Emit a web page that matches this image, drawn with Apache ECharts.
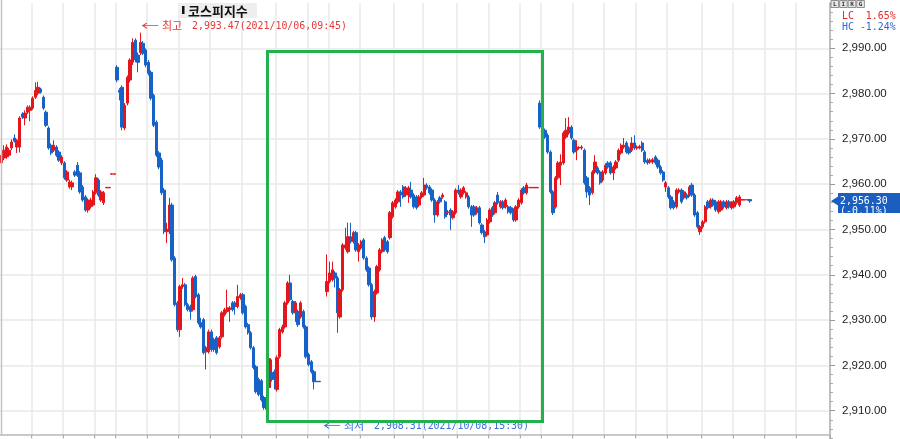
<!DOCTYPE html>
<html><head><meta charset="utf-8">
<script src="https://cdn.jsdelivr.net/npm/echarts@6/dist/echarts.min.js"></script>
<style>html,body{margin:0;padding:0;background:#fff;overflow:hidden;height:439px}#c{width:900px;height:456px}</style>
</head><body><div id="c"></div>
<script>
// ---- data: 5-minute candles [open, close, low, high] ----
const day1 = [
[2964.7,2966.4,2964.2,2966.8],[2965.8,2967.5,2965.3,2968.6],[2966.0,2968.2,2965.6,2968.8],[2966.4,2967.5,2966.0,2968.0],
[2968.0,2969.3,2967.5,2969.9],[2970.2,2969.5,2969.2,2971.0],[2968.2,2969.7,2966.9,2970.0],[2968.2,2974.6,2967.0,2975.0],
[2975.5,2974.8,2974.4,2975.9],[2974.6,2975.7,2973.0,2976.3],[2975.9,2977.0,2975.5,2977.4],[2976.3,2977.0,2973.9,2977.4],
[2976.8,2979.0,2976.4,2979.4],[2979.2,2980.7,2978.8,2982.5],[2980.1,2981.4,2979.6,2982.6],[2981.0,2980.3,2980.0,2981.3],
[2979.2,2976.8,2976.4,2979.6],[2975.9,2973.0,2972.6,2976.3],[2972.4,2968.0,2967.6,2972.8],[2968.6,2966.9,2966.4,2969.0],
[2967.5,2968.6,2967.1,2969.7],[2968.2,2966.4,2966.0,2968.6],[2967.1,2965.3,2964.9,2967.5],[2964.7,2966.0,2964.2,2966.4],
[2964.7,2961.4,2961.0,2965.1],[2960.9,2962.7,2960.5,2963.1],[2959.4,2960.5,2959.0,2961.0],[2959.4,2960.3,2958.7,2960.8],
[2962.7,2962.0,2961.6,2963.1],[2964.2,2962.0,2961.6,2964.9],[2962.5,2958.3,2957.9,2962.9],[2959.4,2956.5,2956.1,2959.8],
[2957.2,2954.3,2953.9,2957.6],[2954.3,2956.5,2953.7,2956.9],[2955.0,2956.5,2954.6,2957.0],[2955.4,2958.3,2955.0,2958.7],
[2958.1,2961.4,2957.7,2962.2],[2960.9,2957.6,2957.2,2961.3],[2956.5,2958.3,2956.1,2958.7],[2955.9,2958.1,2955.4,2958.5],
[2959.2,2959.3,2959.2,2959.3],[2959.2,2959.3,2959.2,2959.3],[2962.2,2962.3,2962.2,2962.3],[2962.2,2962.3,2962.2,2962.3]
];
const day2 = [
[2985.8,2983.0,2982.5,2986.3],[2980.7,2980.3,2978.5,2981.2],[2981.4,2972.6,2971.9,2981.8],[2972.4,2977.4,2971.9,2977.9],
[2977.9,2983.6,2977.4,2984.0],[2983.0,2987.4,2982.5,2987.8],[2986.9,2991.3,2986.3,2992.2],[2991.8,2987.4,2986.9,2992.2],
[2988.5,2986.9,2984.7,2989.1],[2989.1,2991.3,2988.5,2993.47],[2991.1,2988.9,2988.5,2991.6],[2989.6,2986.3,2985.8,2990.0],
[2986.9,2984.5,2984.0,2987.4],[2984.7,2979.0,2978.5,2985.1],[2979.6,2973.0,2972.6,2980.0],[2973.7,2966.4,2966.0,2974.1],
[2966.9,2963.8,2963.3,2967.3],[2965.3,2958.1,2957.6,2965.8],[2958.7,2949.5,2949.0,2959.2],[2949.5,2950.1,2947.0,2951.5],
[2949.5,2955.4,2949.0,2957.0],[2955.4,2943.3,2942.9,2955.9],[2943.7,2933.4,2933.0,2944.1],[2933.8,2927.9,2927.4,2934.2],
[2927.9,2937.4,2926.3,2937.8],[2937.4,2937.8,2936.9,2939.3],[2937.8,2933.4,2933.0,2938.2],[2933.4,2932.3,2931.9,2933.8],
[2933.0,2931.9,2930.1,2933.4],[2932.3,2939.3,2931.9,2939.7],[2939.6,2935.2,2934.8,2940.0],[2935.6,2929.4,2929.0,2936.0],
[2929.4,2928.5,2928.1,2930.5],[2930.1,2922.8,2922.4,2930.5],[2923.0,2923.9,2919.1,2924.3],[2923.0,2927.4,2922.6,2927.9],
[2927.4,2923.5,2923.0,2927.9],[2925.7,2923.5,2923.0,2926.1],[2926.1,2922.8,2922.4,2926.5],[2924.1,2926.1,2923.7,2926.5],
[2926.3,2931.6,2925.9,2932.0],[2931.2,2932.3,2930.8,2932.7],[2931.9,2932.7,2931.5,2936.7],[2932.3,2932.7,2929.6,2933.1],
[2933.8,2932.3,2931.9,2934.2],[2933.8,2933.0,2931.2,2934.2],[2933.0,2935.2,2932.6,2937.8],[2934.9,2935.6,2934.5,2936.0],
[2935.6,2931.6,2931.2,2936.0],[2933.0,2928.5,2928.1,2933.4],[2929.0,2927.2,2926.8,2929.4],[2927.2,2923.9,2923.5,2927.6],
[2923.9,2919.5,2919.1,2924.3],[2919.7,2914.2,2913.8,2920.1],[2916.9,2913.6,2913.2,2917.3],[2916.6,2912.4,2912.0,2917.0],
[2912.9,2910.7,2910.2,2913.3],[2912.4,2910.3,2908.31,2912.8],[2915.1,2921.5,2914.7,2922.4],[2918.4,2916.9,2916.4,2921.3],
[2918.6,2917.3,2914.7,2919.1],[2914.7,2921.7,2914.2,2922.2],[2921.9,2927.9,2921.5,2928.3],[2927.4,2928.5,2927.0,2929.0],
[2928.5,2933.8,2928.1,2934.2],[2933.8,2938.2,2933.4,2938.6],[2938.2,2934.5,2934.1,2940.0],[2934.1,2931.6,2931.2,2934.5],
[2931.6,2933.8,2929.6,2934.2],[2931.9,2929.0,2928.5,2932.3],[2930.7,2933.8,2930.3,2934.2],[2931.9,2928.5,2928.1,2932.3],
[2928.5,2921.9,2921.5,2928.9],[2922.4,2920.2,2919.8,2922.8],[2920.8,2918.6,2918.2,2921.2],[2918.6,2916.4,2914.7,2919.0],
[2916.5,2916.4,2916.4,2916.5],[2916.5,2916.4,2916.4,2916.5]
];
const day3 = [
[2936.3,2938.5,2935.2,2944.5],[2938.5,2940.4,2938.1,2942.9],[2938.9,2941.1,2938.5,2942.9],[2940.4,2939.3,2937.2,2940.8],
[2939.3,2931.6,2927.2,2939.7],[2930.7,2936.7,2930.3,2937.1],[2936.7,2946.6,2936.3,2947.0],[2945.9,2946.6,2945.5,2950.4],
[2945.1,2948.4,2944.7,2951.5],[2948.4,2947.3,2946.9,2951.5],[2947.3,2949.3,2946.9,2949.7],[2949.3,2945.5,2945.1,2949.7],
[2945.1,2946.6,2942.9,2947.0],[2945.9,2947.3,2945.5,2947.7],[2947.7,2943.7,2943.3,2948.1],[2943.7,2941.1,2940.7,2944.1],
[2941.5,2937.8,2937.4,2941.9],[2937.8,2930.7,2930.1,2938.2],[2930.7,2936.3,2929.6,2936.7],[2936.0,2941.8,2935.6,2942.2],
[2941.1,2945.5,2940.7,2945.9],[2945.1,2947.7,2944.7,2948.1],[2948.2,2945.5,2945.1,2948.6],[2947.3,2945.1,2944.7,2947.7],
[2948.2,2953.7,2947.8,2954.1],[2952.8,2955.9,2952.4,2956.3],[2955.0,2956.5,2954.6,2956.9],[2956.1,2958.3,2955.7,2958.7],
[2958.3,2957.6,2955.0,2958.7],[2959.4,2957.2,2956.8,2959.8],[2957.6,2959.2,2957.2,2959.6],[2957.6,2959.2,2955.9,2959.6],
[2958.7,2957.2,2956.8,2960.5],[2957.6,2955.0,2954.6,2958.0],[2957.2,2954.8,2954.4,2957.6],[2955.4,2957.2,2955.0,2957.6],
[2957.2,2958.1,2956.8,2958.5],[2957.6,2959.8,2957.2,2961.4],[2959.8,2959.2,2958.8,2960.2],[2959.4,2958.1,2957.7,2959.8],
[2958.7,2956.5,2956.1,2959.1],[2956.5,2953.2,2951.5,2956.9],[2953.2,2956.1,2952.8,2956.5],[2957.0,2956.1,2955.7,2957.4],
[2957.2,2957.6,2956.8,2958.1],[2956.1,2952.8,2952.4,2956.5],[2953.7,2953.9,2953.2,2954.3],[2954.3,2953.2,2949.9,2954.7],
[2952.6,2953.9,2952.2,2954.3],[2953.7,2958.7,2953.3,2959.1],[2958.7,2958.1,2957.7,2959.8],[2957.2,2958.7,2956.8,2959.1],
[2958.1,2959.2,2957.7,2959.6],[2957.2,2958.1,2956.8,2958.5],[2957.2,2955.0,2954.6,2957.6],[2955.0,2953.2,2950.6,2955.4],
[2955.0,2953.2,2952.8,2955.4],[2953.7,2954.8,2953.3,2955.2],[2954.8,2951.5,2951.1,2955.2],[2951.0,2949.3,2948.9,2951.4],
[2949.5,2948.4,2947.0,2949.9],[2948.8,2952.1,2948.4,2952.5],[2951.7,2954.3,2951.3,2954.7],[2954.8,2953.2,2952.8,2955.2],
[2953.7,2955.9,2953.3,2956.3],[2957.6,2955.9,2955.5,2958.3],[2955.0,2956.1,2954.6,2956.5],[2956.1,2954.8,2954.4,2956.5],
[2955.0,2956.5,2954.6,2956.9],[2955.0,2953.9,2953.5,2955.4],[2954.8,2953.7,2953.3,2955.2],[2954.3,2952.1,2951.7,2954.7],
[2952.1,2955.0,2951.7,2955.4],[2955.0,2956.5,2954.6,2956.9],[2955.9,2958.7,2955.5,2959.1],[2959.2,2958.1,2957.7,2959.6],
[2958.1,2959.8,2957.7,2960.3],[2959.2,2959.3,2959.2,2959.3],[2959.2,2959.3,2959.2,2959.3],[2959.2,2959.3,2959.2,2959.3],
[2959.2,2959.3,2959.2,2959.3]
];
const day4 = [
[2977.9,2972.6,2972.2,2978.5],[2969.7,2972.4,2969.3,2975.7],[2971.9,2970.4,2970.0,2972.3],[2970.8,2967.1,2966.7,2971.2],
[2967.1,2958.3,2957.9,2967.5],[2958.3,2953.7,2953.2,2958.7],[2955.0,2961.4,2954.6,2961.8],[2961.4,2964.7,2961.0,2965.1],
[2964.2,2964.9,2959.8,2966.6],[2964.7,2971.3,2964.3,2971.7],[2970.4,2971.9,2970.0,2974.6],[2971.3,2972.6,2970.9,2974.8],
[2972.6,2970.2,2969.8,2973.0],[2969.7,2967.1,2966.7,2970.1],[2967.5,2968.2,2965.3,2969.7],[2968.0,2968.1,2967.6,2968.4],
[2968.0,2968.2,2967.6,2968.6],[2967.5,2960.3,2959.9,2967.9],[2961.4,2958.3,2957.0,2961.8],[2959.2,2957.6,2955.4,2959.6],
[2958.1,2962.7,2957.7,2963.1],[2962.7,2964.9,2962.3,2966.4],[2963.6,2962.5,2962.1,2964.0],[2962.7,2960.3,2959.9,2963.1],
[2960.9,2962.7,2960.5,2963.1],[2962.5,2964.2,2962.1,2964.6],[2964.7,2963.8,2963.4,2965.1],[2964.7,2962.5,2962.1,2965.1],
[2962.5,2963.8,2960.9,2964.2],[2963.6,2964.9,2963.2,2965.3],[2965.3,2967.5,2964.9,2967.9],[2966.9,2968.6,2966.5,2969.0],
[2968.2,2968.6,2967.8,2970.2],[2969.1,2967.1,2966.7,2969.5],[2968.0,2966.9,2966.5,2968.4],[2967.5,2969.1,2967.1,2970.4],
[2969.1,2968.0,2967.6,2970.8],[2968.0,2968.2,2967.6,2968.6],[2968.0,2968.3,2967.7,2968.7],[2969.1,2967.5,2967.1,2969.5],
[2967.1,2964.9,2964.5,2967.5],[2965.3,2964.7,2964.3,2965.7],[2964.9,2965.3,2964.5,2965.7],[2964.9,2965.4,2964.5,2965.8],
[2966.0,2964.7,2964.3,2966.4],[2965.3,2963.8,2963.4,2965.7],[2963.8,2962.5,2962.1,2964.2],[2962.7,2960.9,2960.5,2963.1],
[2959.4,2960.3,2958.3,2960.7],[2959.2,2957.2,2956.8,2959.6],[2957.2,2954.8,2954.4,2957.6],[2956.1,2954.8,2954.4,2956.5],
[2955.0,2958.7,2954.6,2959.1],[2958.3,2958.7,2957.9,2959.1],[2958.7,2956.1,2955.7,2959.1],[2957.0,2958.3,2956.6,2958.7],
[2957.6,2957.0,2956.6,2958.0],[2957.6,2959.4,2957.2,2959.8],[2959.8,2957.6,2957.2,2960.3],[2957.6,2953.2,2952.8,2958.0],
[2953.7,2950.6,2950.2,2954.1],[2949.5,2950.6,2948.8,2951.0],[2950.6,2951.7,2950.2,2952.1],[2951.7,2955.0,2951.3,2955.4],
[2956.1,2954.8,2954.4,2956.5],[2955.0,2956.5,2954.6,2956.9],[2956.5,2955.4,2955.0,2956.9],[2956.1,2954.3,2953.9,2956.5],
[2953.9,2956.1,2953.5,2956.5],[2954.3,2956.1,2953.9,2956.5],[2956.1,2955.0,2954.6,2956.5],[2954.8,2956.1,2954.4,2956.5],
[2956.1,2955.0,2954.6,2956.5],[2954.8,2955.9,2954.4,2956.3],[2955.0,2956.1,2954.6,2956.5],[2955.9,2957.0,2955.5,2957.4],
[2955.4,2957.2,2955.0,2957.6],[2956.5,2956.6,2956.5,2956.6],[2956.5,2956.6,2956.5,2956.6],[2956.5,2956.6,2956.5,2956.6],
[2956.6,2956.3,2955.9,2956.7]
];
const sessions = [day1, day2, day3, day4];
const sessionStarts = [0, 44, 124, 205];
const sessionDates = ['10/05', '10/06', '10/07', '10/08'];
const sessionOpen = ['11:50', '09:00', '09:00', '09:00'];
const SLOTS = 316;
const hourLineSlots = [12,24,36,44,56,68,80,92,105,117,125,137,150,161,174,186,198,206,218,230,242,254,267,279,291,303];
const lastPrice = 2956.30;
const lastChange = '(-0.11%)';
const titleText = '코스피지수';
const maxNote = ['←', '최고', '2,993.47(2021/10/06,09:45)'];
const minNote = ['←', '최저', '2,908.31(2021/10/08,15:30)'];
const lcText = 'LC  1.65%';
const hcText = 'HC -1.24%';

// ---- build category labels & candle list ----
function slotLabel(i) {
  let s = 0;
  for (let k = 0; k < sessionStarts.length; k++) if (i >= sessionStarts[k]) s = k;
  const [h, m] = sessionOpen[s].split(':').map(Number);
  const t = h * 60 + m + (i - sessionStarts[s]) * 5;
  return sessionDates[s] + ' ' + String(Math.floor(t / 60)).padStart(2, '0') + ':' + String(t % 60).padStart(2, '0');
}
const categories = [];
const candles = [];
for (let i = 0; i < SLOTS; i++) { categories.push(slotLabel(i)); candles.push(['-', '-', '-', '-']); }
sessions.forEach((d, k) => d.forEach((c, j) => { candles[sessionStarts[k] + j] = c; }));

const RED = '#e3161d', BLUE = '#1762c6';
const MONO = "'DejaVu Sans Mono', monospace";
const CJK = "'Noto Sans CJK KR', sans-serif";
const hourSet = new Set(hourLineSlots);

const chart = echarts.init(document.getElementById('c'), null, { renderer: 'canvas' });
chart.setOption({
  animation: false,
  backgroundColor: '#fff',
  grid: { left: 0, right: 70, top: 3, bottom: 0 },
  xAxis: {
    type: 'category', data: categories, boundaryGap: true, offset: -21,
    axisLine: { show: true, lineStyle: { color: '#b8b8b8', width: 1.5 } },
    axisTick: { show: true, length: 3, interval: (i) => hourSet.has(i), lineStyle: { color: '#aaa' } },
    axisLabel: { show: false },
    splitLine: { show: true, interval: (i) => hourSet.has(i), lineStyle: { color: '#e8e8e8', width: 1.5 } }
  },
  yAxis: {
    type: 'value', position: 'right', min: 2900, max: 3000, interval: 10,
    axisLine: { show: true, lineStyle: { color: '#b0b0b0', width: 1.5 } },
    axisTick: { show: true, length: 5, lineStyle: { color: '#999' } },
    minorTick: { show: true, splitNumber: 5, length: 3, lineStyle: { color: '#aaa' } },
    axisLabel: {
      margin: 12, color: '#222', fontFamily: "'Liberation Sans', sans-serif", fontSize: 11.5, showMaxLabel: false, showMinLabel: false,
      formatter: (v) => v.toLocaleString('en-US', { minimumFractionDigits: 2, maximumFractionDigits: 2 })
    },
    splitLine: { show: true, showMaxLine: false, lineStyle: { color: '#e8e8e8', width: 1.5 } }
  },
  series: [{
    type: 'candlestick', data: candles, barWidth: 2.8,
    itemStyle: { color: RED, color0: BLUE, borderColor: RED, borderColor0: BLUE, borderWidth: 1 }
  }]
});

const py = chart.convertToPixel({ yAxisIndex: 0 }, lastPrice);
const boxes = ['L', 'I', 'R', 'G'];
function monoText(x, y, text, fill, size) {
  return { type: 'text', x: x, y: y, scaleX: 0.9, style: { text: text, fill: fill, font: size + "px " + MONO, verticalAlign: 'middle' }, z: 12 };
}
function note(x, y, parts, fill) {
  return [
    { type: 'text', x: x, y: y, scaleX: 1.5, style: { text: parts[0], fill: fill, font: "12px " + CJK, verticalAlign: 'middle' }, z: 11 },
    { type: 'text', x: x + 21, y: y, style: { text: parts[1], fill: fill, font: "11px " + CJK, verticalAlign: 'middle' }, z: 11 },
    Object.assign(monoText(x + 51, y, parts[2], fill, 11), { z: 11 })
  ];
}
const graphic = [
  { type: 'line', shape: { x1: 1.5, y1: 0, x2: 1.5, y2: 435 }, style: { stroke: '#c4c4c4', lineWidth: 1.5 }, z: 5 },
  { type: 'rect', shape: { x: 180, y: 3, width: 77, height: 15 }, style: { fill: '#eeeeee' }, z: 10 },
  { type: 'rect', shape: { x: 182, y: 6, width: 2.5, height: 8 }, style: { fill: '#111' }, z: 11 },
  { type: 'text', x: 188, y: 11, style: { text: titleText, fill: '#111', font: "bold 13px " + CJK, verticalAlign: 'middle' }, z: 11 },
  ...note(141, 26, maxNote, '#e23a3a'),
  ...note(323, 426, minNote, '#3a6fd6'),
  { type: 'rect', shape: { x: 267.5, y: 51.5, width: 275, height: 370 }, style: { fill: null, stroke: '#22b14c', lineWidth: 3 }, z: 20 },
  monoText(842, 16, lcText, '#e52828', 11),
  monoText(842, 27, hcText, '#2a6ad0', 11),
  { type: 'polygon', shape: { points: [[831, py], [838, py - 4.5], [838, py + 4.5]] }, style: { fill: '#1a5fc0' }, z: 11 },
  { type: 'rect', shape: { x: 838, y: py - 8, width: 62, height: 20 }, style: { fill: '#1a5fc0' }, z: 11 },
  monoText(840, py + 0.5, lastPrice.toLocaleString('en-US', { minimumFractionDigits: 2 }), '#fff', 11),
  monoText(840, py + 10.5, lastChange, '#fff', 11)
];
boxes.forEach((b, k) => {
  graphic.push({ type: 'rect', shape: { x: 831 + k * 8.6, y: 0.5, width: 7.6, height: 7 }, style: { fill: '#e8e8e8', stroke: '#777', lineWidth: 0.8 }, z: 11 });
  graphic.push({ type: 'text', x: 834.8 + k * 8.6, y: 4.3, style: { text: b, fill: '#333', font: "bold 6px " + MONO, align: 'center', verticalAlign: 'middle' }, z: 12 });
});
chart.setOption({ graphic: graphic });
</script></body></html>
